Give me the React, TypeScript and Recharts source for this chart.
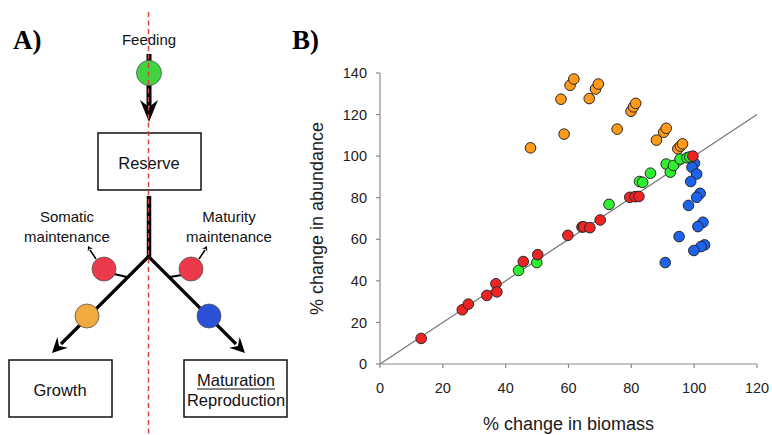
import React from 'react';
import { ScatterChart, Scatter, XAxis, YAxis, ReferenceLine } from 'recharts';

// ---- Data ----
const xTicks = [0, 20, 40, 60, 80, 100, 120];
const yTicks = [0, 20, 40, 60, 80, 100, 120, 140];

const redBiomass = [13.1, 26.2, 28.1, 34.0, 36.9, 37.2, 45.6, 50.2, 59.8, 64.3, 64.8, 66.8, 70.1, 79.5, 81.2, 82.4, 99.6];
const redAbundance = [12.3, 26.1, 28.8, 33.0, 38.6, 34.7, 49.3, 52.6, 61.9, 65.9, 66.0, 65.6, 69.3, 80.2, 80.5, 80.6, 100.0];

const greenBiomass = [44.1, 49.9, 72.9, 82.6, 83.6, 86.1, 91.1, 92.4, 93.4, 95.5, 97.7, 98.6];
const greenAbundance = [45.0, 48.8, 76.8, 87.8, 87.4, 91.8, 96.2, 92.3, 95.5, 98.6, 99.2, 99.6];

const orangeBiomass = [47.9, 57.6, 58.6, 60.5, 61.7, 66.6, 68.6, 69.5, 75.5, 79.9, 80.7, 81.4, 88.0, 90.3, 91.1, 94.8, 95.6, 96.3];
const orangeAbundance = [104.0, 127.4, 110.6, 134.1, 137.1, 127.7, 132.3, 134.7, 113.0, 121.6, 123.7, 125.4, 107.7, 111.5, 113.4, 103.5, 104.8, 105.9];

const blueBiomass = [100.1, 99.3, 100.8, 98.9, 101.9, 100.8, 98.2, 102.8, 101.2, 95.2, 103.3, 102.2, 99.9, 90.8];
const blueAbundance = [96.6, 94.6, 91.4, 87.8, 82.1, 80.2, 76.3, 68.2, 66.1, 61.3, 57.3, 56.5, 54.6, 48.8];

const toPoints = (xs: number[], ys: number[]) => xs.map((x, i) => ({ x, y: ys[i] }));
const redData = toPoints(redBiomass, redAbundance);
const greenData = toPoints(greenBiomass, greenAbundance);
const orangeData = toPoints(orangeBiomass, orangeAbundance);
const blueData = toPoints(blueBiomass, blueAbundance);

const FONT = '"Liberation Sans", Arial, Helvetica, sans-serif';
const SERIF = '"Liberation Serif", "Times New Roman", serif';

const dot = (fill: string) => (props: any) => (
  <circle cx={props.cx} cy={props.cy} r={5.3} fill={fill} stroke="#262626" strokeWidth={1} />
);

const XLabel = (props: any) => {
  const vb = props.viewBox || {};
  return (
    <text x={vb.x + vb.width / 2} y={430} textAnchor="middle" fontFamily={FONT} fontSize={18} fill="#1a1a1a">
      % change in biomass
    </text>
  );
};

const YLabel = (props: any) => {
  const vb = props.viewBox || {};
  const cx = 317;
  const cy = vb.y + vb.height / 2;
  return (
    <text x={cx} y={cy} transform={`rotate(-90 ${cx} ${cy})`} textAnchor="middle" dominantBaseline="central" fontFamily={FONT} fontSize={18} fill="#1a1a1a">
      % change in abundance
    </text>
  );
};

const arrowHead = (tx: number, ty: number, dx: number, dy: number, len: number, half: number, notch: number) => {
  const n = Math.hypot(dx, dy);
  const ux = dx / n, uy = dy / n;
  const px = -uy, py = ux;
  const bx = tx - ux * len, by = ty - uy * len;
  const nx = tx - ux * notch, ny = ty - uy * notch;
  return `M${bx + px * half},${by + py * half} L${tx},${ty} L${bx - px * half},${by - py * half} L${nx},${ny} Z`;
};

const PanelA = () => (
  <svg width={320} height={435} style={{ position: 'absolute', left: 0, top: 0 }} fontFamily={FONT}>
    <text x={13} y={49} fontFamily={SERIF} fontWeight="bold" fontSize={27} fill="#000">A)</text>
    <text x={292} y={49} fontFamily={SERIF} fontWeight="bold" fontSize={27} fill="#000">B)</text>

    <text x={149} y={45} textAnchor="middle" fontSize={15} fill="#111">Feeding</text>

    {/* top feeding arrow */}
    <line x1={149} y1={54} x2={149} y2={106} stroke="#000" strokeWidth={5} />
    <path d={arrowHead(149, 122, 0, 1, 22, 9, 15)} fill="#000" />
    <circle cx={149} cy={73} r={12.5} fill="#3fd43f" stroke="#555" strokeWidth={0.8} />

    {/* reserve box */}
    <rect x={98} y={133} width={103} height={57} fill="#fff" stroke="#111" strokeWidth={1.5} />
    <text x={149} y={169} textAnchor="middle" fontSize={16.5} fill="#111">Reserve</text>

    {/* trunk */}
    <line x1={149} y1={196} x2={149} y2={258} stroke="#000" strokeWidth={4.5} />

    {/* branches */}
    <line x1={149} y1={256} x2={61} y2={344} stroke="#000" strokeWidth={3.2} />
    <line x1={148} y1={256} x2={236} y2={344} stroke="#000" strokeWidth={3.2} />
    <path d={arrowHead(52, 353, -1, 1, 15, 7.5, 10)} fill="#000" />
    <path d={arrowHead(245, 353, 1, 1, 15, 7.5, 10)} fill="#000" />

    {/* maintenance connectors */}
    <line x1={114} y1={274} x2={127} y2={277} stroke="#000" strokeWidth={2} />
    <line x1={182} y1={275} x2={170} y2={277} stroke="#000" strokeWidth={2} />
    <line x1={96} y1={259} x2={90} y2={250} stroke="#000" strokeWidth={1.5} />
    <path d={arrowHead(88, 246, -0.55, -1, 5, 3, 3)} fill="#000" />
    <line x1={199} y1={259} x2={205} y2={250} stroke="#000" strokeWidth={1.5} />
    <path d={arrowHead(207, 246, 0.55, -1, 5, 3, 3)} fill="#000" />

    <circle cx={104} cy={269} r={12} fill="#ec3a4c" stroke="#555" strokeWidth={0.8} />
    <circle cx={191} cy={269} r={12} fill="#ec3a4c" stroke="#555" strokeWidth={0.8} />
    <circle cx={87} cy={316} r={12} fill="#f0aa40" stroke="#555" strokeWidth={0.8} />
    <circle cx={209} cy={316} r={12} fill="#2c4fd8" stroke="#555" strokeWidth={0.8} />

    <text x={67} y={222} textAnchor="middle" fontSize={15} fill="#111">Somatic</text>
    <text x={67} y={242} textAnchor="middle" fontSize={15} fill="#111">maintenance</text>
    <text x={229} y={222} textAnchor="middle" fontSize={15} fill="#111">Maturity</text>
    <text x={229} y={242} textAnchor="middle" fontSize={15} fill="#111">maintenance</text>

    {/* bottom boxes */}
    <rect x={9} y={360} width={103} height={57} fill="#fff" stroke="#111" strokeWidth={1.5} />
    <text x={60} y={396} textAnchor="middle" fontSize={16.5} fill="#111">Growth</text>
    <rect x={184} y={360} width={103} height={57} fill="#fff" stroke="#111" strokeWidth={1.5} />
    <text x={236} y={386} textAnchor="middle" fontSize={16.5} fill="#111">Maturation</text>
    <line x1={197} y1={389} x2={275} y2={389} stroke="#111" strokeWidth={1} />
    <text x={236} y={406} textAnchor="middle" fontSize={16.5} fill="#111">Reproduction</text>

    {/* red dashed centre line */}
    <line x1={148.5} y1={12} x2={148.5} y2={435} stroke="#e0413a" strokeWidth={1.5} strokeDasharray="5 3.5" />
  </svg>
);

export default function App() {
  return (
    <div style={{ position: 'absolute', left: 0, top: 0, width: 772, height: 435, background: '#fff', overflow: 'hidden' }}>
      <ScatterChart width={772} height={435} margin={{ top: 73, right: 15, bottom: 0, left: 320 }}>
        <XAxis
          type="number"
          dataKey="x"
          domain={[0, 120]}
          ticks={xTicks}
          height={71}
          tickSize={4}
          tickMargin={15}
          axisLine={{ stroke: '#8a8a8a', strokeWidth: 1.2 }}
          tickLine={{ stroke: '#8a8a8a', strokeWidth: 1.2 }}
          tick={{ fontSize: 14.5, fontFamily: FONT, fill: '#222' }}
          label={{ content: XLabel }}
        />
        <YAxis
          type="number"
          dataKey="y"
          domain={[0, 140]}
          ticks={yTicks}
          width={60}
          tickSize={4}
          tickMargin={9}
          axisLine={{ stroke: '#8a8a8a', strokeWidth: 1.2 }}
          tickLine={{ stroke: '#8a8a8a', strokeWidth: 1.2 }}
          tick={{ fontSize: 14.5, fontFamily: FONT, fill: '#222' }}
          label={{ content: YLabel }}
        />
        <ReferenceLine segment={[{ x: 0, y: 0 }, { x: 120, y: 120 }]} stroke="#7a7a7a" strokeWidth={1.3} />
        <Scatter data={blueData} shape={dot('#1e63ee')} isAnimationActive={false} />
        <Scatter data={orangeData} shape={dot('#ff9a1a')} isAnimationActive={false} />
        <Scatter data={greenData} shape={dot('#2ef02e')} isAnimationActive={false} />
        <Scatter data={redData} shape={dot('#ee2424')} isAnimationActive={false} />
      </ScatterChart>
      <PanelA />
    </div>
  );
}
